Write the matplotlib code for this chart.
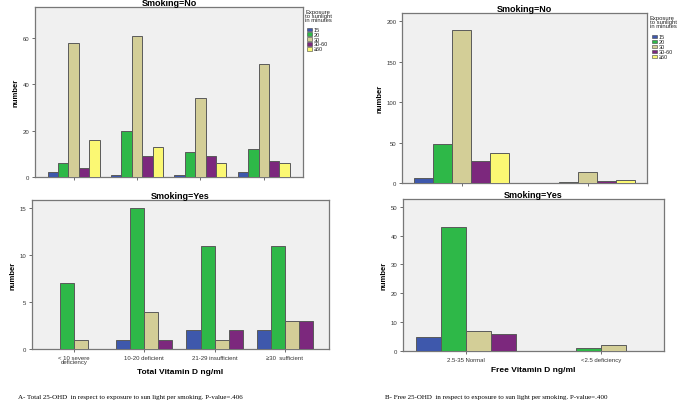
import matplotlib
matplotlib.use("Agg")
import matplotlib.pyplot as plt
import numpy as np

plt.rcParams['font.family'] = ['Liberation Sans', 'DejaVu Sans']

series = ["15", "20", "30", "30-60", "≥60"]
colors = ["#3E58AC", "#2EB848", "#D3CE97", "#7C287D", "#FBF873"]

total_cats = ["< 10 severe\ndeficiency", "10-20 deficient", "21-29 insufficient", "≥30  sufficient"]
total_no = {
    "15": [2, 1, 1, 2],
    "20": [6, 20, 11, 12],
    "30": [58, 61, 34, 49],
    "30-60": [4, 9, 9, 7],
    "≥60": [16, 13, 6, 6],
}
total_yes = {
    "15": [0, 1, 2, 2],
    "20": [7, 15, 11, 11],
    "30": [1, 4, 1, 3],
    "30-60": [0, 1, 2, 3],
}

free_cats = ["2.5-35 Normal", "<2.5 deficiency"]
free_no = {
    "15": [6, 0],
    "20": [48, 1],
    "30": [189, 13],
    "30-60": [27, 2],
    "≥60": [37, 4],
}
free_yes = {
    "15": [5, 0],
    "20": [43, 1],
    "30": [7, 2],
    "30-60": [6, 0],
}

W, H = 685, 410
fig = plt.figure(figsize=(W / 100, H / 100), dpi=100)


def px_axes(x0, y0, x1, y1):
    return fig.add_axes([x0 / W, 1 - y1 / H, (x1 - x0) / W, (y1 - y0) / H])


def draw(ax, cats, data, width, xlim, ylim, yticks, title, show_xlabels):
    keys = list(data.keys())
    n = len(keys)
    x = np.arange(len(cats))
    for i, k in enumerate(keys):
        c = colors[series.index(k)]
        offs = (i - (n - 1) / 2) * width
        vals = np.array(data[k], dtype=float)
        ax.bar(x + offs, vals, width, color=c, edgecolor="#5a5a5a", linewidth=0.7, zorder=3)
    ax.set_facecolor("#F0F0F0")
    ax.set_xlim(*xlim)
    ax.set_ylim(*ylim)
    ax.set_yticks(yticks)
    ax.set_yticklabels([str(t) for t in yticks], fontsize=4.3, color="#333333")
    ax.set_xticks(x)
    if show_xlabels:
        ax.set_xticklabels(cats, fontsize=4.3, color="#333333", linespacing=0.9)
    else:
        ax.set_xticklabels([])
    ax.tick_params(axis="both", length=2.5, width=0.6, color="#555555", pad=1.5, direction="out")
    for s in ax.spines.values():
        s.set_color("#777777")
        s.set_linewidth(0.9)
    ax.set_ylabel("number", fontsize=5.5, fontweight="bold", labelpad=2)
    ax.set_title(title, fontsize=6.5, fontweight="bold", pad=1.5)


def legend_at(x, y_title, y_first, step):
    fig.text(x / W, 1 - y_title / H, "Exposure\nto sunlight\nin minutes", fontsize=4.2,
             ha="left", va="top", linespacing=0.78, color="#222222")
    for i, (s, c) in enumerate(zip(series, colors)):
        yy = y_first + i * step
        fig.patches.append(plt.Rectangle(((x + 2) / W, 1 - (yy + 1.9) / H), 5 / W, 3.8 / H,
                                         transform=fig.transFigure, facecolor=c,
                                         edgecolor="#444444", linewidth=0.4))
        fig.text((x + 9) / W, 1 - yy / H, s, fontsize=4.0, ha="left", va="center", color="#222222")


# Panel A
ax1 = px_axes(35, 8, 303, 178)
draw(ax1, total_cats, total_no, 0.164, (-0.61, 3.62), (0, 73.5), [0, 20, 40, 60], "Smoking=No", False)
ax2 = px_axes(32, 201, 329, 350)
draw(ax2, total_cats, total_yes, 0.2, (-0.6, 3.63), (0, 15.9), [0, 5, 10, 15], "Smoking=Yes", True)
ax2.set_xlabel("Total Vitamin D ng/ml", fontsize=6, fontweight="bold", labelpad=3)

# Panel B
ax3 = px_axes(402, 14, 647, 184)
draw(ax3, free_cats, free_no, 0.15, (-0.473, 1.47), (0, 210.3), [0, 50, 100, 150, 200], "Smoking=No", False)
ax4 = px_axes(403, 200, 664, 352)
draw(ax4, free_cats, free_yes, 0.185, (-0.467, 1.467), (0, 52.7), [0, 10, 20, 30, 40, 50], "Smoking=Yes", True)
ax4.set_xlabel("Free Vitamin D ng/ml", fontsize=6, fontweight="bold", labelpad=3)

legend_at(305, 10, 30.5, 4.8)
legend_at(650, 16, 37.5, 5.0)

cap_font = ['Liberation Serif', 'DejaVu Serif']
fig.text(18 / W, 1 - 398 / H, "A- Total 25-OHD  in respect to exposure to sun light per smoking. P-value=.406",
         fontsize=5.0, family=cap_font, ha="left", va="center")
fig.text(385 / W, 1 - 398 / H, "B- Free 25-OHD  in respect to exposure to sun light per smoking. P-value=.400",
         fontsize=5.0, family=cap_font, ha="left", va="center")

fig.savefig("out.png", dpi=100, facecolor="white")
